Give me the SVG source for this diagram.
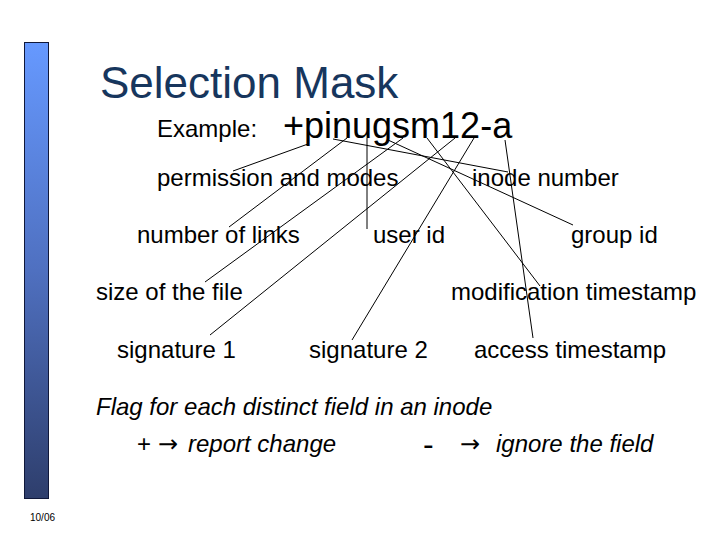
<svg xmlns="http://www.w3.org/2000/svg" width="720" height="540" viewBox="0 0 720 540">
<defs>
<linearGradient id="barGrad" x1="0" y1="0" x2="0" y2="1">
<stop offset="0" stop-color="#6699FF"/>
<stop offset="0.5" stop-color="#4F70C0"/>
<stop offset="1" stop-color="#2E3E6C"/>
</linearGradient>
<style>
text{font-family:"Liberation Sans",Arial,sans-serif;fill:#000}
.lbl{font-size:24px}
.it{font-size:24px;font-style:italic}
.arr{font-family:"DejaVu Sans",sans-serif;font-size:24px}
.title{font-size:44px;fill:#17365D}
.conn line{stroke:#000;stroke-width:1;fill:none}
</style>
</defs>
<rect width="720" height="540" fill="#fff"/>
<rect id="bar" x="24.5" y="42.5" width="24" height="456" fill="url(#barGrad)" stroke="#10183A" stroke-width="1"/>
<text id="title" class="title" x="100" y="98">Selection Mask</text>
<text id="example" class="lbl" x="157" y="137">Example:</text>
<text id="mask" x="283" y="138" style="font-size:36px">+pinugsm12-a</text>
<g id="connectors" class="conn">
<line x1="308" y1="144" x2="233" y2="171"/>
<line x1="333" y1="139" x2="508" y2="172"/>
<line x1="347" y1="138" x2="229" y2="227"/>
<line x1="367" y1="138" x2="367" y2="229"/>
<line x1="388" y1="140" x2="573" y2="225"/>
<line x1="403" y1="138" x2="205" y2="282"/>
<line x1="427" y1="138" x2="540" y2="286"/>
<line x1="455" y1="138" x2="210" y2="335"/>
<line x1="474" y1="138" x2="352" y2="340"/>
<line x1="505" y1="140" x2="533" y2="338"/>
</g>
<g id="n-perm"><text class="lbl" x="157" y="186">permission and modes</text></g>
<g id="n-inode"><text class="lbl" x="472" y="186">inode number</text></g>
<g id="n-links"><text class="lbl" x="137" y="243">number of links</text></g>
<g id="n-uid"><text class="lbl" x="373" y="243">user id</text></g>
<g id="n-gid"><text class="lbl" x="571" y="243">group id</text></g>
<g id="n-size"><text class="lbl" x="96" y="300">size of the file</text></g>
<g id="n-mtime"><text class="lbl" x="451" y="300">modification timestamp</text></g>
<g id="n-sig1"><text class="lbl" x="117" y="358">signature 1</text></g>
<g id="n-sig2"><text class="lbl" x="309" y="358">signature 2</text></g>
<g id="n-atime"><text class="lbl" x="474" y="358">access timestamp</text></g>
<g id="flags">
<text class="it" x="96" y="415">Flag for each distinct field in an inode</text>
<text class="lbl" x="137" y="452">+</text>
<text class="arr" x="158" y="452">→</text>
<text class="it" x="188" y="452">report change</text>
<text x="423" y="455" style="font-size:32px">-</text>
<text class="arr" x="460" y="452">→</text>
<text class="it" x="496" y="452">ignore the field</text>
</g>
<text id="date" x="30" y="521" style="font-size:10px">10/06</text>
</svg>
